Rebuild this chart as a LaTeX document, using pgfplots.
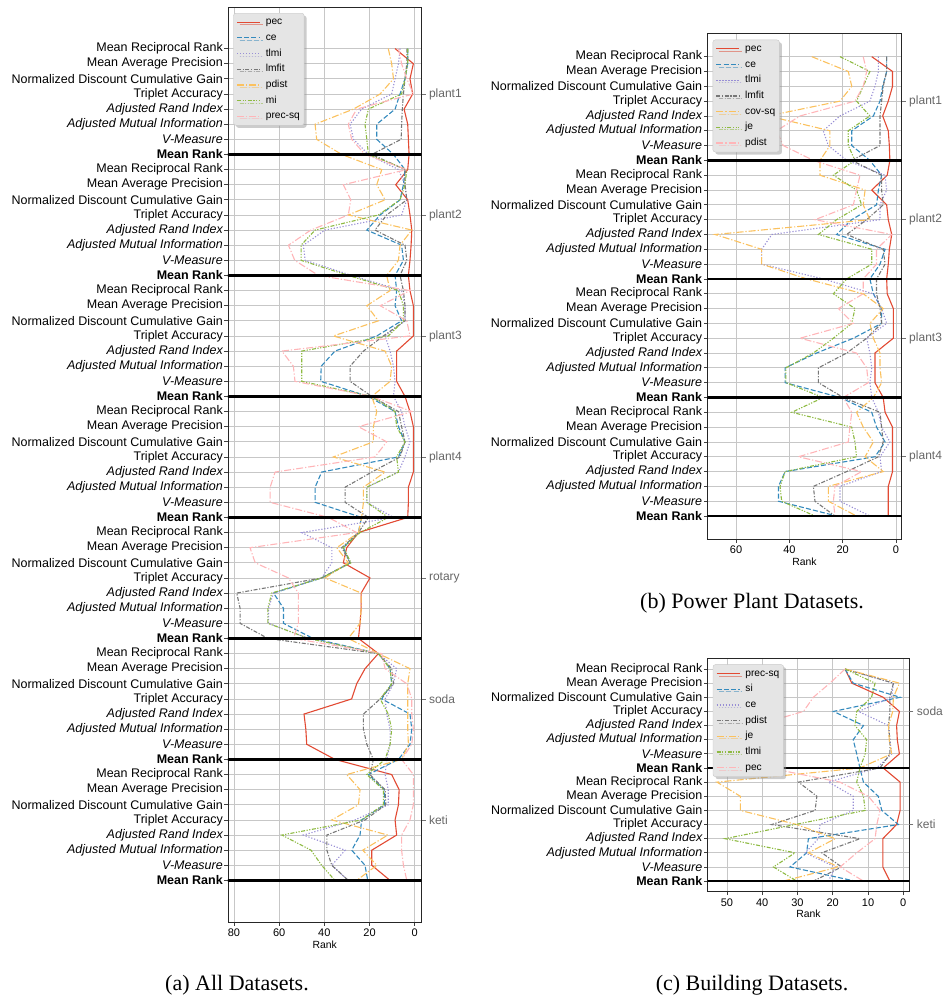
\documentclass[border=0pt]{standalone}
\usepackage{fontspec}
\setmainfont{Liberation Sans}
\newfontfamily\capfont{Liberation Serif}
\usepackage{pgfplots}
\usepackage{pgfplotstable}
\pgfplotsset{compat=1.18}
\usetikzlibrary{shadows}

\definecolor{cA}{HTML}{E24A33}
\definecolor{cB}{HTML}{348ABD}
\definecolor{cC}{HTML}{988ED5}
\definecolor{cD}{HTML}{777777}
\definecolor{cE}{HTML}{FBC15E}
\definecolor{cF}{HTML}{8EBA42}
\definecolor{cG}{HTML}{FFB5B8}

\pgfplotsset{
  sA/.style={cA, line width=1.1pt, solid},
  sB/.style={cB, line width=1.1pt, dash pattern=on 5pt off 2.2pt},
  sC/.style={cC, line width=1.1pt, dash pattern=on 1.2pt off 1.8pt},
  sD/.style={cD, line width=1.1pt, dash pattern=on 4pt off 1.6pt on 1.2pt off 1.6pt},
  sE/.style={cE, line width=1.1pt, dash pattern=on 7pt off 2pt on 1.2pt off 2pt},
  sF/.style={cF, line width=1.1pt, dash pattern=on 4pt off 1.5pt on 1.2pt off 1.5pt on 1.2pt off 1.5pt},
  sG/.style={cG, line width=1.1pt, dash pattern=on 7pt off 2pt on 1.2pt off 2pt},
  mrline/.style={black, line width=2.6pt, forget plot},
  rankaxis/.style={
    scale only axis, anchor=south west,
    x dir=reverse, y dir=reverse,
    xtick pos=left, ytick pos=left,
    tick align=outside, major tick length=3.5pt,
    tick style={black!75, line width=0.8pt},
    grid=major, major grid style={black!22, line width=0.8pt},
    axis line style={black!85, line width=0.9pt},
    yticklabel={\pgfmathtruncatemacro{\rowmod}{mod(round(\tick),8)}\ifcase\rowmod Mean Reciprocal Rank\or Mean Average Precision\or Normalized Discount Cumulative Gain\or Triplet Accuracy\or\itshape Adjusted Rand Index\or\itshape Adjusted Mutual Information\or\itshape V-Measure\or\bfseries Mean Rank\fi},
    yticklabel style={font=\fontsize{12.5}{14}\selectfont, inner sep=1.5pt},
    xticklabel style={font=\fontsize{11}{13}\selectfont},
    /pgf/number format/assume math mode=true,
    xlabel=Rank,
    xlabel style={font=\fontsize{10.4}{12}\selectfont, yshift=3pt},
    legend cell align=left,
    legend image code/.code={\draw[##1, line width=1.2pt] (0pt,0pt) -- (23pt,0pt);},
    legend style={at={(0,1)}, anchor=north west, xshift=5.3pt, yshift=-6pt,
      fill=black!10, draw=black!22, rounded corners=2.5pt,
      drop shadow={shadow xshift=2.5pt, shadow yshift=-2.5pt, fill=black!40},
      font=\fontsize{10.2}{12}\selectfont, inner sep=3pt, row sep=3.8pt,
      column sep=4pt,
      nodes={inner sep=1.2pt, text height=7.3pt, text depth=2.2pt}},
  },
  grouplabels/.style={
    scale only axis, anchor=south west, y dir=reverse,
    xmin=0, xmax=1, hide x axis, axis y line*=right,
    y axis line style={draw=none},
    tick align=outside, major tick length=4pt,
    ytick style={black!55, line width=0.8pt},
    yticklabel style={black!60, font=\fontsize{12}{14}\selectfont},
  },
}

% Panel (a): all datasets
\pgfplotstableread{
r pec ce tlmi lmfit pdist mi precsq
0 8.7 3.1 6.5 3.5 11.7 3.1 7.2
1 0.6 3.1 7.2 3.5 10.2 3.1 5.8
2 2.1 4.3 8.7 4.3 9.4 4.3 3.5
3 0.9 6.5 10.2 5.0 15.3 5.8 0.6
4 4.7 8.7 23.5 5.5 27.1 20.5 25.7
5 3.1 16.8 28.6 5.8 44.1 22.0 29.4
6 2.8 16.8 27.1 6.0 43.4 21.2 27.9
7 2.5 9.4 20.5 19.0 32.3 20.5 22.0
8 3.1 4.3 7.2 4.3 14.6 3.5 3.5
9 8.4 5.0 4.3 4.3 16.8 4.3 31.6
10 3.1 6.5 3.5 3.5 13.1 6.5 28.3
11 2.1 15.3 5.8 12.4 29.4 16.1 29.4
12 1.3 21.2 39.7 17.6 1.3 44.1 46.0
13 1.6 5.8 49.3 4.3 6.5 50.3 55.9
14 2.1 5.0 48.5 3.5 7.2 50.3 53.1
15 2.8 8.7 27.9 6.5 12.4 29.4 42.6
16 2.1 8.0 5.8 5.0 10.9 7.2 2.1
17 0.6 8.7 4.3 4.3 21.2 5.0 15.3
18 0.6 5.8 4.3 4.3 16.1 5.0 3.5
19 0.6 16.8 13.1 13.9 36.0 11.7 2.1
20 8.0 35.3 10.9 22.7 13.1 50.0 58.8
21 8.0 41.4 9.4 28.6 10.2 50.0 53.7
22 8.0 41.6 8.7 28.6 10.9 50.0 53.0
23 4.3 20.5 9.4 19.0 19.0 19.0 19.0
24 2.1 8.7 5.8 7.2 16.8 8.7 1.3
25 0.6 7.2 4.3 5.8 18.3 8.0 24.9
26 0.6 4.3 2.1 4.3 18.3 4.3 12.4
27 0.6 7.2 4.3 6.5 36.0 8.0 17.6
28 0.6 41.2 7.2 19.0 13.1 7.2 61.8
29 2.8 44.1 21.2 30.8 22.7 21.2 64.0
30 2.8 44.1 21.2 30.8 22.7 21.2 64.0
31 3.1 23.5 9.4 20.5 23.5 11.7 38.2
32 24.9 25.0 50.0 24.9 24.9 24.2 25.7
33 30.1 31.6 36.7 32.3 34.5 31.6 72.9
34 31.6 28.6 36.7 28.6 29.4 28.2 70.6
35 19.8 41.2 41.2 41.2 39.7 41.2 55.9
36 23.7 62.5 62.5 78.8 23.7 63.3 51.5
37 23.7 58.1 64.7 77.3 23.7 65.0 51.5
38 24.2 58.1 64.7 77.3 24.2 65.0 51.5
39 24.9 45.0 47.0 65.0 29.4 47.0 53.7
40 16.1 16.1 16.1 16.1 16.1 16.1 14.6
41 22.0 10.9 8.0 10.2 2.1 10.9 13.1
42 25.7 10.2 9.4 9.4 3.1 10.2 3.5
43 27.9 14.6 13.1 15.3 3.1 15.3 1.3
44 49.0 2.1 12.4 22.7 3.1 11.7 1.3
45 48.2 1.3 10.9 22.7 3.1 10.2 0.6
46 47.8 2.1 10.9 21.2 2.8 10.9 1.3
47 35.3 7.2 12.4 18.3 5.8 13.1 5.8
48 10.2 20.5 13.1 19.8 30.1 21.2 0.6
49 6.9 13.4 11.7 13.1 24.2 13.9 0.6
50 7.2 13.4 11.7 12.8 24.9 13.9 0.6
51 8.7 23.5 26.4 22.0 36.7 23.5 2.1
52 8.0 24.2 49.3 38.9 11.9 58.8 5.8
53 19.0 27.9 30.8 38.9 23.0 45.9 5.8
54 19.0 22.0 36.7 36.7 16.8 41.2 5.0
55 10.9 20.8 29.4 29.4 25.7 35.3 3.5
}\dataA

% Panel (b): power plant datasets
\pgfplotstableread{
r pec ce tlmi lmfit covsq je pdist
0 9.1 3.5 6.6 3.5 31.6 21.0 12.3
1 1.3 3.5 6.6 3.5 17.9 9.8 11.0
2 1.3 5.0 7.9 4.8 16.6 12.3 12.3
3 2.9 6.0 9.8 5.4 21.0 14.8 15.4
4 5.0 8.5 21.0 6.0 48.0 9.8 36.0
5 2.9 16.6 27.3 6.0 24.8 17.9 44.8
6 2.5 16.6 25.4 6.0 24.8 17.9 42.3
7 2.3 9.8 18.5 16.6 28.5 15.4 31.0
8 3.3 5.4 4.1 5.4 28.5 23.5 13.5
9 9.1 6.6 3.5 5.4 11.6 14.8 14.8
10 3.5 7.3 6.0 4.8 12.3 12.9 16.0
11 2.9 16.6 6.0 11.0 9.8 22.3 30.4
12 1.6 22.3 46.6 18.5 67.9 29.1 1.6
13 2.5 4.1 50.4 4.8 50.4 9.1 7.3
14 2.9 6.0 50.4 4.1 50.4 9.1 7.3
15 3.5 9.8 27.3 7.3 33.5 18.5 12.3
16 3.3 8.5 8.5 7.3 12.3 23.5 12.3
17 1.0 5.4 5.4 6.0 4.8 15.4 21.6
18 1.0 5.4 3.5 5.4 9.8 16.6 16.0
19 1.0 16.0 11.0 11.0 8.5 23.5 36.0
20 7.9 29.8 9.8 18.5 6.0 31.0 14.8
21 7.9 41.6 9.1 29.1 6.0 41.3 11.0
22 7.9 41.6 9.8 29.1 5.4 41.3 10.4
23 4.8 21.0 9.1 19.8 8.5 27.3 19.8
24 4.1 9.1 6.6 6.0 14.8 39.1 16.6
25 1.3 7.3 5.4 5.4 12.3 16.6 17.3
26 1.3 4.1 2.3 4.8 8.5 15.4 17.9
27 1.3 7.9 6.0 6.6 11.6 14.8 36.6
28 1.3 41.6 5.4 18.5 4.8 41.6 12.9
29 2.9 44.1 21.0 31.0 25.4 43.5 22.9
30 2.9 44.1 21.0 30.4 25.4 42.9 23.5
31 2.9 22.3 9.8 22.9 14.8 30.4 22.9
}\dataB

% Panel (c): building datasets
\pgfplotstableread{
r precsq si ce pdist je tlmi pec
0 16.5 16.5 16.5 16.5 16.5 16.5 16.5
1 14.6 14.2 2.8 2.8 1.1 8.0 20.8
2 5.7 0.9 3.3 3.8 2.8 9.0 25.5
3 1.1 19.8 12.7 3.8 3.0 13.2 28.3
4 1.9 11.3 4.2 4.2 4.2 13.7 42.0
5 1.7 14.2 3.8 3.8 4.0 10.4 48.0
6 1.1 13.2 3.3 3.8 3.3 10.8 48.0
7 5.7 12.3 7.5 6.6 12.3 12.3 38.0
8 0.9 11.3 21.2 29.7 52.8 13.2 18.0
9 0.9 7.1 14.2 24.5 46.2 11.3 9.9
10 0.9 6.1 14.2 25.0 46.2 10.8 6.6
11 1.9 1.4 23.6 37.3 30.2 30.7 7.5
12 5.8 26.9 24.1 12.3 19.3 50.5 8.0
13 5.8 27.4 27.8 23.1 26.9 30.7 13.2
14 5.8 32.1 19.3 17.5 18.4 36.8 17.9
15 3.8 13.7 21.2 25.5 34.0 30.2 11.3
}\dataC

\begin{document}
\begin{tikzpicture}
\useasboundingbox (0,0) rectangle (945pt,999pt);

% ---------- (a) ----------
\begin{axis}[rankaxis, at={(228pt,77pt)}, width=193.5pt, height=915pt,
  xmin=-3, xmax=82.65, ymin=-2.75, ymax=57.75,
  xtick={0,20,40,60,80}, ytick={0,1,...,55}]
\addplot[sA] table[x=pec,y=r]{\dataA}; \addlegendentry{pec}
\addplot[sB] table[x=ce,y=r]{\dataA}; \addlegendentry{ce}
\addplot[sC] table[x=tlmi,y=r]{\dataA}; \addlegendentry{tlmi}
\addplot[sD] table[x=lmfit,y=r]{\dataA}; \addlegendentry{lmfit}
\addplot[sE] table[x=pdist,y=r]{\dataA}; \addlegendentry{pdist}
\addplot[sF] table[x=mi,y=r]{\dataA}; \addlegendentry{mi}
\addplot[sG] table[x=precsq,y=r]{\dataA}; \addlegendentry{prec-sq}
\addplot[mrline] coordinates {(-10,7) (100,7)};
\addplot[mrline] coordinates {(-10,15) (100,15)};
\addplot[mrline] coordinates {(-10,23) (100,23)};
\addplot[mrline] coordinates {(-10,31) (100,31)};
\addplot[mrline] coordinates {(-10,39) (100,39)};
\addplot[mrline] coordinates {(-10,47) (100,47)};
\addplot[mrline] coordinates {(-10,55) (100,55)};
\end{axis}
\begin{axis}[grouplabels, at={(228pt,77pt)}, width=193.5pt, height=915pt,
  ymin=-2.75, ymax=57.75, ytick={3,11,19,27,35,43,51},
  yticklabels={plant1,plant2,plant3,plant4,rotary,soda,keti}]
\addplot[draw=none] coordinates {(0.5,0)};
\end{axis}

% ---------- (b) ----------
\begin{axis}[rankaxis, at={(707.3pt,460pt)}, width=194.4pt, height=505.3pt,
  xmin=-2.14, xmax=70.8, ymin=-1.55, ymax=32.55,
  xtick={0,20,40,60}, ytick={0,1,...,31}]
\addplot[sA] table[x=pec,y=r]{\dataB}; \addlegendentry{pec}
\addplot[sB] table[x=ce,y=r]{\dataB}; \addlegendentry{ce}
\addplot[sC] table[x=tlmi,y=r]{\dataB}; \addlegendentry{tlmi}
\addplot[sD] table[x=lmfit,y=r]{\dataB}; \addlegendentry{lmfit}
\addplot[sE] table[x=covsq,y=r]{\dataB}; \addlegendentry{cov-sq}
\addplot[sF] table[x=je,y=r]{\dataB}; \addlegendentry{je}
\addplot[sG] table[x=pdist,y=r]{\dataB}; \addlegendentry{pdist}
\addplot[mrline] coordinates {(-10,7) (100,7)};
\addplot[mrline] coordinates {(-10,15) (100,15)};
\addplot[mrline] coordinates {(-10,23) (100,23)};
\addplot[mrline] coordinates {(-10,31) (100,31)};
\end{axis}
\begin{axis}[grouplabels, at={(707.3pt,460pt)}, width=194.4pt, height=505.3pt,
  ymin=-1.55, ymax=32.55, ytick={3,11,19,27},
  yticklabels={plant1,plant2,plant3,plant4}]
\addplot[draw=none] coordinates {(0.5,0)};
\end{axis}

% ---------- (c) ----------
\begin{axis}[rankaxis, at={(707.5pt,107.3pt)}, width=201.8pt, height=233.3pt,
  xmin=-1.7, xmax=55.5, ymin=-0.75, ymax=15.75,
  xtick={0,10,20,30,40,50}, ytick={0,1,...,15}]
\addplot[sA] table[x=precsq,y=r]{\dataC}; \addlegendentry{prec-sq}
\addplot[sB] table[x=si,y=r]{\dataC}; \addlegendentry{si}
\addplot[sC] table[x=ce,y=r]{\dataC}; \addlegendentry{ce}
\addplot[sD] table[x=pdist,y=r]{\dataC}; \addlegendentry{pdist}
\addplot[sE] table[x=je,y=r]{\dataC}; \addlegendentry{je}
\addplot[sF] table[x=tlmi,y=r]{\dataC}; \addlegendentry{tlmi}
\addplot[sG] table[x=pec,y=r]{\dataC}; \addlegendentry{pec}
\addplot[mrline] coordinates {(-10,7) (100,7)};
\addplot[mrline] coordinates {(-10,15) (100,15)};
\end{axis}
\begin{axis}[grouplabels, at={(707.5pt,107.3pt)}, width=201.8pt, height=233.3pt,
  ymin=-0.75, ymax=15.75, ytick={3,11},
  yticklabels={soda,keti}]
\addplot[draw=none] coordinates {(0.5,0)};
\end{axis}

% ---------- captions ----------
\node[font=\capfont\fontsize{22}{26}\selectfont] at (237pt,14pt) {(a) All Datasets.};
\node[font=\capfont\fontsize{22}{26}\selectfont] at (752pt,396pt) {(b) Power Plant Datasets.};
\node[font=\capfont\fontsize{22}{26}\selectfont] at (752pt,14pt) {(c) Building Datasets.};
\end{tikzpicture}
\end{document}
